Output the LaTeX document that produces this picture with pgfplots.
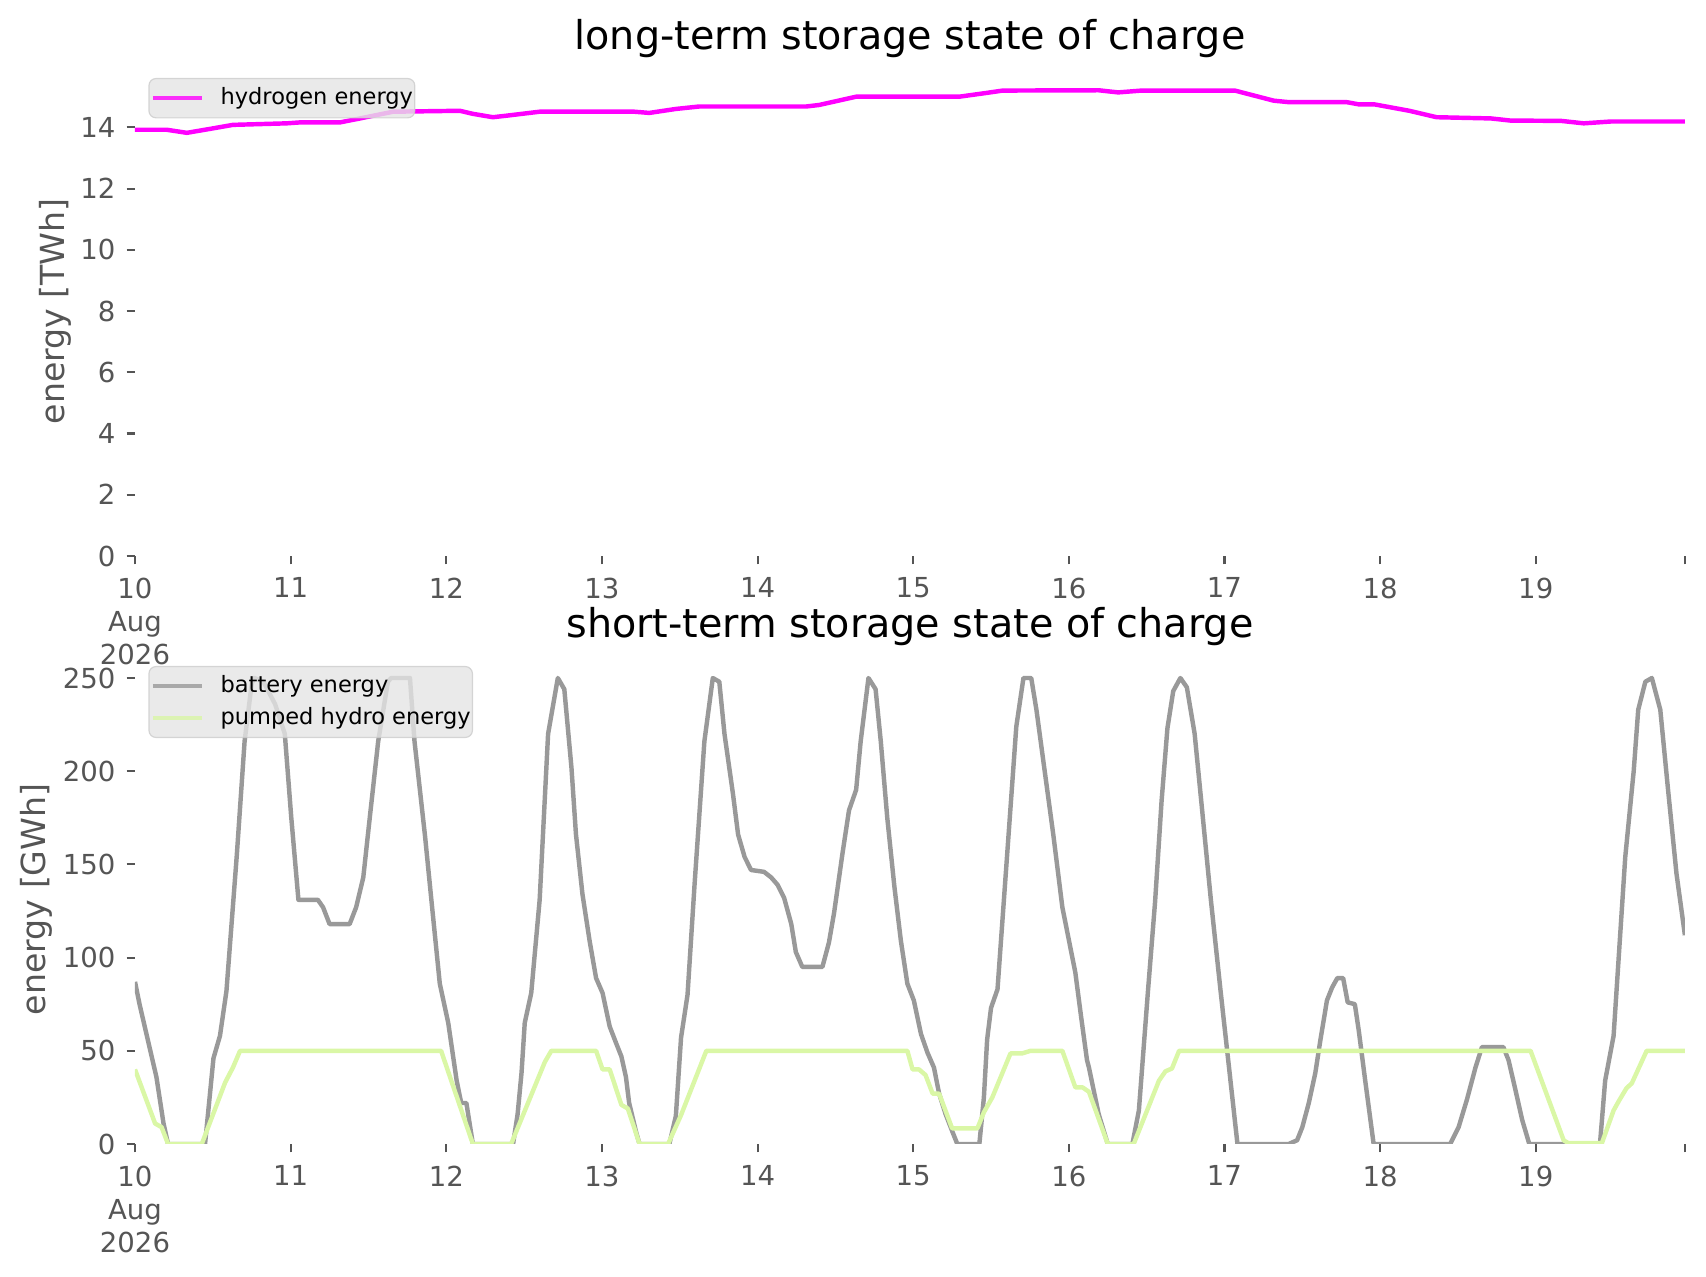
\documentclass[border=0pt]{standalone}
\usepackage{pgfplots}
\pgfplotsset{compat=1.18}
\usepackage{fontspec}
\setmainfont{DejaVu Sans}
\definecolor{tickgray}{HTML}{555555}
\definecolor{batt}{HTML}{999999}
\definecolor{phs}{HTML}{DAF7A6}
\definecolor{hyd}{HTML}{FF00FF}
\definecolor{legfill}{HTML}{E5E5E5}
\definecolor{legdraw}{HTML}{CCCCCC}

\pgfplotstableread{
h v
0 13.92
4.9 13.92
8.0 13.82
11.6 13.95
15.1 14.08
23.4 14.13
25.4 14.16
31.6 14.16
34.7 14.29
39.8 14.51
50.1 14.54
52.1 14.44
55.2 14.33
57.3 14.38
62.4 14.51
77.0 14.51
79.3 14.47
83.4 14.60
87.0 14.68
103.5 14.68
105.5 14.73
111.2 15.00
127.1 15.00
131.2 15.12
133.8 15.20
148.6 15.21
151.6 15.14
155.2 15.20
169.6 15.20
175.6 14.87
178.0 14.82
186.9 14.82
188.7 14.75
191.1 14.75
196.5 14.54
200.7 14.33
209.1 14.29
212.1 14.22
219.9 14.21
223.4 14.13
227.6 14.19
239.0 14.19
}\hydrogen

\pgfplotstableread{
h v
0 87
0.7 75
3.3 36
4.4 11
5.1 0
10.8 0
12.1 46
13.1 58
14.1 82
15.7 155
16.9 216
18.0 247
18.4 250
19.8 248
21.6 236
23.1 220
24.1 175
25.2 131
28.2 131
29.0 127
30.0 118
33.1 118
34.1 127
35.2 143
36.2 175
37.5 216
39.0 248
39.5 250
42.4 250
43.1 216
44.7 166
45.7 131
47.0 86
48.3 65
49.6 34
50.3 22
51.1 22
52.1 0
58.3 0
59.0 16
59.6 38
60.1 65
61.1 81
62.4 131
63.7 220
65.2 250
66.2 244
67.3 202
68.0 166
69.0 134
70.1 109
71.1 89
72.1 81
73.2 63
74.2 54
75.0 47
75.7 36
76.2 22
77.3 6
77.8 0
82.4 0
83.4 15
84.2 57
85.2 80
86.3 140
87.8 216
89.1 250
90.1 248
90.9 220
92.2 188
93.0 166
94.0 154
95.0 147
97.0 146
98.1 143
99.1 139
100.1 132
101.2 118
101.9 103
102.9 95
106.0 95
107.0 108
107.8 124
109.1 156
110.1 179
111.2 190
111.9 216
113.1 250
114.2 244
115.0 216
116.0 175
117.1 138
118.1 109
119.1 86
120.1 77
121.2 59
122.2 49
123.2 41
124.0 27
125.0 16
126.0 7
126.8 0
130.2 0
130.9 25
131.4 56
132.0 73
133.0 83
135.9 224
137.0 250
138.2 250
139.0 233
140.2 202
141.6 166
143.0 127
145.0 92
145.9 68
146.8 45
147.1 41
148.6 16
150.0 0
153.8 0
154.8 18
156.2 82
157.3 130
158.3 184
159.2 223
160.1 243
161.2 250
162.2 245
163.4 220
164.5 181
165.9 131
167.4 82
170.0 0
177.9 0
179.2 2
180.0 9
181.0 22
182.0 38
182.8 56
183.8 77
184.6 84
185.4 89
186.3 89
187.0 76
188.1 75
188.7 61
189.7 34
191.0 0
202.8 0
204.1 9
205.4 24
206.7 41
207.7 52
211.0 52
211.8 45
212.8 30
213.9 13
215.0 0
225.9 0
226.7 34
228.0 58
229.8 154
231.1 200
231.8 233
232.9 248
233.9 250
235.2 233
236.4 190
237.7 145
239.0 112
}\battery

\pgfplotstableread{
h v
0 40
3.1 11
4.1 9
5.1 0
10.3 0
13.9 33
15.1 41
16.2 50
47.2 50
52.1 0
58.0 0
63.2 44
64.2 50
71.1 50
72.1 40
73.2 40
75.0 21
76.0 19
77.8 0
82.2 0
84.2 15.5
88.1 50
119.1 50
119.9 40
120.9 40
121.9 37
123.0 27
124.0 27
126.0 8.4
129.9 8.4
130.9 17
132.2 25
135.0 48.6
136.8 48.6
138.1 50
143.0 50
145.0 30.4
146.1 30.4
147.1 28
150.0 0
154.0 0
157.9 34
158.9 39
159.9 40.5
161.0 50
215.2 50
220.3 2
221.0 0.5
226.2 0.5
228.0 18
228.8 23
230.0 30
230.8 32.5
233.1 50
239.0 50
}\phs

\pgfplotsset{
  mystyle/.style={
    scale only axis, width=523.3pt, height=165.2pt,
    xmin=0, xmax=239,
    axis x line*=bottom, axis y line*=left,
    axis line style={draw=none},
    tick align=outside, major tick length=2.8pt,
    tick style={color=tickgray, line width=0.7pt},
    xtick={0,24,...,216},
    xticklabels={{10\\Aug\\2026},11,12,13,14,15,16,17,18,19},
    extra x ticks={239}, extra x tick labels={},
    xticklabel style={font=\fontsize{9.3}{11.2}\selectfont, text=tickgray, align=center, anchor=north, inner sep=0pt, yshift=-4.3pt},
    yticklabel style={font=\fontsize{9.3}{11}\selectfont, text=tickgray, anchor=east, inner sep=0pt, xshift=-3.6pt},
    /pgf/number format/assume math mode=true,
    every axis title shift=0pt,
    title style={at={(axis description cs:0.5,1)}, anchor=base, yshift=5.7pt, inner sep=0pt, font=\fontsize{13.4}{16}\selectfont},
    ylabel style={anchor=center, font=\fontsize{11.2}{13}\selectfont, text=tickgray},
    legend cell align=left,
    legend image code/.code={\draw[##1,line width=1.5pt] (0pt,0pt) -- (16.5pt,0pt);},
    legend style={at={(axis description cs:0.0086,0.977)}, anchor=north west,
      fill=legfill, fill opacity=0.8, draw opacity=0.8, text opacity=1, draw=legdraw,
      rounded corners=2.4pt, font=\fontsize{7.6}{9}\selectfont,
      inner xsep=0.6pt, inner ysep=3pt, row sep=3.4pt, nodes={inner sep=0pt},
      /tikz/every odd column/.append style={column sep=5.6pt}},
  }
}

\begin{document}
\begin{tikzpicture}[x=1pt,y=1pt]
\useasboundingbox (0,0) rectangle (576,431.15);
\begin{axis}[mystyle, at={(45.58pt,243.43pt)}, anchor=south west,
  ymin=0, ymax=15.98, ytick={0,2,...,14},
  title={long-term storage state of charge},
  ylabel={energy [TWh]},
  ylabel style={at={(axis description cs:-0.0514,0.5)}}]
\addplot[hyd, line width=1.5pt, line join=round] table[x=h,y=v] {\hydrogen};
\addlegendentry{hydrogen energy}
\end{axis}
\begin{axis}[mystyle, at={(45.58pt,44.9pt)}, anchor=south west,
  ymin=0, ymax=262.5, ytick={0,50,...,250},
  title={short-term storage state of charge},
  ylabel={energy [GWh]},
  ylabel style={at={(axis description cs:-0.0639,0.5)}}]
\addplot[batt, line width=1.5pt, line join=round] table[x=h,y=v] {\battery};
\addlegendentry{battery energy}
\addplot[phs, line width=1.5pt, line join=round] table[x=h,y=v] {\phs};
\addlegendentry{pumped hydro energy}
\end{axis}
\end{tikzpicture}
\end{document}
